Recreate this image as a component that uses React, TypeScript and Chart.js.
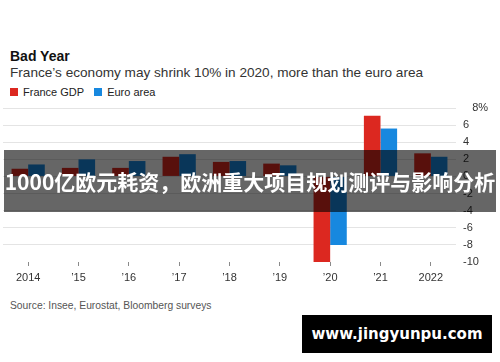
import React, { useEffect, useRef } from "react";
import { Chart, registerables } from "chart.js";

Chart.register(...registerables);

const categories = ["2014", "’15", "’16", "’17", "’18", "’19", "’20", "’21", "2022"];
const franceGDP = [0.9, 1.0, 1.0, 2.3, 1.7, 1.5, -10, 7.1, 2.7];
const euroArea = [1.4, 2.0, 1.8, 2.6, 1.8, 1.3, -8, 5.6, 2.3];
const yTicks = [8, 6, 4, 2, 0, -2, -4, -6, -8, -10];

const RED = "#dc2820";
const BLUE = "#1788df";
const FONT = "'Liberation Sans', Arial, sans-serif";

export default function App() {
  const ref = useRef<HTMLCanvasElement | null>(null);

  useEffect(() => {
    if (!ref.current) return;
    const chart = new Chart(ref.current, {
      type: "bar",
      data: {
        labels: categories,
        datasets: [
          { label: "France GDP", data: franceGDP, backgroundColor: RED, barPercentage: 1, categoryPercentage: 0.66 },
          { label: "Euro area", data: euroArea, backgroundColor: BLUE, barPercentage: 1, categoryPercentage: 0.66 },
        ],
      },
      options: {
        responsive: false,
        animation: false,
        layout: { padding: { top: 108, left: 3, right: 0, bottom: 0 } },
        plugins: { legend: { display: false }, tooltip: { enabled: false }, title: { display: false } },
        scales: {
          x: {
            offset: true,
            border: { display: false },
            grid: { display: true, offset: false, drawOnChartArea: false, drawTicks: true, tickLength: 4, color: "#8a8a8a" },
            ticks: { color: "#333", font: { family: FONT, size: 11 }, padding: 5, maxRotation: 0, autoSkip: false },
            afterFit: (s: any) => { s.height = 28; },
          },
          y: {
            position: "right",
            min: -10,
            max: 8,
            border: { display: false },
            afterBuildTicks: (s: any) => { s.ticks = yTicks.map((v) => ({ value: v })); },
            afterFit: (s: any) => { s.width = 44; },
            grid: {
              drawTicks: false,
              color: (c: any) => (c.tick && c.tick.value === -10 ? "rgba(0,0,0,0)" : "#e4e4e4"),
              lineWidth: 1,
            },
            ticks: {
              color: "#333",
              font: { family: FONT, size: 11 },
              padding: 7,
              callback: (v: any) => (v === 8 ? "   8%" : String(v)),
            },
          },
        },
      },
    });
    return () => chart.destroy();
  }, []);

  return (
    <div style={{ position: "fixed", left: 0, top: 0, width: 500, height: 362, background: "#fff", overflow: "hidden", fontFamily: FONT }}>
      <div style={{ position: "absolute", left: 10, top: 48, fontSize: 14, fontWeight: 700, color: "#111", lineHeight: "16px" }}>Bad Year</div>
      <div style={{ position: "absolute", left: 10, top: 65, fontSize: 13.6, color: "#333", lineHeight: "16px", whiteSpace: "nowrap" }}>
        France’s economy may shrink 10% in 2020, more than the euro area
      </div>
      <div style={{ position: "absolute", left: 10, top: 85, fontSize: 11, color: "#222", lineHeight: "14px", display: "flex", alignItems: "center", whiteSpace: "nowrap" }}>
        <span style={{ display: "inline-block", width: 8, height: 8, background: RED, marginRight: 5 }} />
        <span>France GDP</span>
        <span style={{ display: "inline-block", width: 8, height: 8, background: BLUE, marginLeft: 10, marginRight: 5 }} />
        <span>Euro area</span>
      </div>
      <canvas ref={ref} width={500} height={290} style={{ position: "absolute", left: 0, top: 0, width: 500, height: 290 }} />
      <div style={{ position: "absolute", left: 10, top: 300, fontSize: 10.3, color: "#555", lineHeight: "12px", whiteSpace: "nowrap" }}>
        Source: Insee, Eurostat, Bloomberg surveys
      </div>
      <div style={{ position: "absolute", left: 4, top: 150, width: 492, height: 62, background: "rgba(0,0,0,0.6)", display: "flex", alignItems: "center", justifyContent: "center" }}>
        <span style={{ color: "#fff", fontWeight: 700, fontSize: 21, fontFamily: "'Noto Sans CJK SC', sans-serif", whiteSpace: "nowrap", lineHeight: "26px" }}>
          1000亿欧元耗资，欧洲重大项目规划测评与影响分析
        </span>
      </div>
      <div style={{ position: "absolute", left: 302, top: 315, width: 190, height: 38, background: "#000", display: "flex", alignItems: "center", justifyContent: "center" }}>
        <span style={{ color: "#fff", fontWeight: 700, fontSize: 15, fontFamily: "'DejaVu Sans', sans-serif", whiteSpace: "nowrap" }}>www.jingyunpu.com</span>
      </div>
    </div>
  );
}
